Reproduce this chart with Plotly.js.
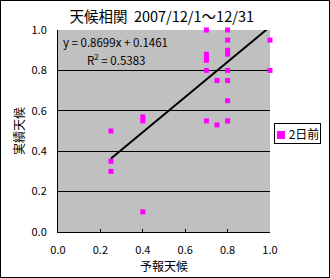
<!DOCTYPE html>
<html>
<head>
<meta charset="utf-8">
<script src="https://cdn.plot.ly/plotly-3.0.1.min.js"></script>
<style>
html,body{margin:0;padding:0;background:#fff;}
#wrap{position:relative;width:330px;height:278px;}
#chart{width:330px;height:278px;}
#frame{position:absolute;left:0;top:0;width:328px;height:276px;border:1px solid #000;pointer-events:none;}
</style>
</head>
<body>
<div id="wrap"><div id="chart"></div><div id="frame"></div></div>
<script>
// Data
const forecast = [0.25,0.25,0.25, 0.4,0.4,0.4, 0.7,0.7,0.7,0.7,0.7,0.7, 0.75,0.75, 0.8,0.8,0.8,0.8,0.8,0.8,0.8,0.8, 1.0,1.0];
const actual   = [0.50,0.35,0.30, 0.57,0.55,0.10, 1.00,0.88,0.86,0.85,0.80,0.55, 0.75,0.53, 1.00,0.95,0.90,0.88,0.80,0.75,0.65,0.55, 0.95,0.80];
const seriesName = "2日前";
const trendSlope = 0.8699;
const trendIntercept = 0.1461;
const r2 = 0.5383;
const tickVals = [0,0.2,0.4,0.6,0.8,1.0];
const tickText = ["0.0","0.2","0.4","0.6","0.8","1.0"];
const markerColor = '#ff00ff';

const xmin = Math.min(...forecast), xmax = Math.max(...forecast);
const trendX = [xmin, xmax];
const trendY = trendX.map(v => trendSlope*v + trendIntercept);

const FONT = "'Noto Sans CJK JP', 'Liberation Sans', sans-serif";

const traces = [
  {x: forecast, y: actual, type: 'scatter', mode: 'markers', name: seriesName,
   marker: {symbol: 'square', size: 5, color: markerColor}, cliponaxis: false, showlegend: false},
  {x: trendX, y: trendY, type: 'scatter', mode: 'lines', showlegend: false,
   line: {color: '#000', width: 2}, hoverinfo: 'skip'}
];

const layout = {
  width: 330, height: 278,
  margin: {l: 58, r: 60, t: 30, b: 46, autoexpand: false},
  paper_bgcolor: '#fff', plot_bgcolor: '#c0c0c0',
  font: {family: FONT, size: 11, color: '#000'},
  title: {text: '天候相関  2007/12/1～12/31', font: {family: FONT, size: 14.5, color: '#000'},
          x: 0.49, xanchor: 'center', y: 0.94, yanchor: 'middle'},
  xaxis: {range: [0, 1], tickvals: tickVals, ticktext: tickText, showgrid: false,
          zeroline: false, showline: true, linecolor: '#000', linewidth: 1,
          ticks: 'inside', ticklen: 3, tickcolor: '#000', ticklabelstandoff: 8,
          tickfont: {size: 11}, title: {text: '予報天候', font: {size: 12}, standoff: 0}},
  yaxis: {range: [0, 1], tickvals: tickVals, ticktext: tickText, showgrid: true,
          gridcolor: '#000', gridwidth: 1, zeroline: false, showline: true, linecolor: '#000',
          linewidth: 1, ticks: 'inside', ticklen: 3, tickcolor: '#000', ticklabelstandoff: 8,
          tickfont: {size: 11}, title: {text: '実績天候', font: {size: 12}, standoff: 4}},
  showlegend: false,
  annotations: [
    {xref: 'paper', yref: 'paper', x: 0.012, y: 0.94, xanchor: 'left', yanchor: 'middle',
     text: 'y = ' + trendSlope.toFixed(4) + 'x + ' + trendIntercept.toFixed(4), showarrow: false,
     font: {size: 11.5}},
    {xref: 'paper', yref: 'paper', x: 0.125, y: 0.855, xanchor: 'left', yanchor: 'middle',
     text: 'R<sup>2</sup> = ' + r2.toFixed(4), showarrow: false, font: {size: 11.5}},
    {xref: 'paper', yref: 'paper', x: 1.13, y: 0.49, xanchor: 'center', yanchor: 'middle',
     text: '<span style="color:' + markerColor + ';font-size:10px">■</span> ' + seriesName,
     showarrow: false, bgcolor: '#fff', bordercolor: '#000', borderwidth: 1, borderpad: 1,
     font: {size: 12}}
  ]
};

Plotly.newPlot('chart', traces, layout, {displayModeBar: false, staticPlot: true});
</script>
</body>
</html>
